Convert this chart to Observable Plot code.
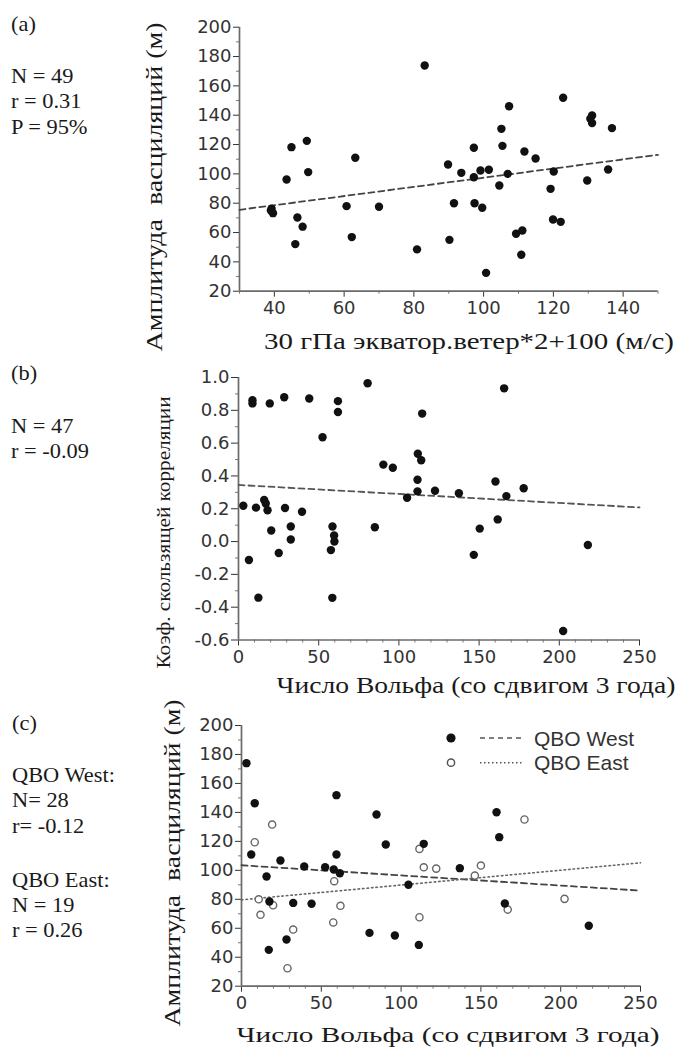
<!DOCTYPE html>
<html><head><meta charset="utf-8">
<script src="https://cdn.jsdelivr.net/npm/d3@7"></script>
<script src="https://cdn.jsdelivr.net/npm/@observablehq/plot@0.6"></script>
<style>
body{margin:0;background:#fff;}
#fig{position:relative;width:678px;height:1047px;overflow:hidden;background:#fff;}
</style></head><body><div id="fig"></div>
<script>
// ---------- data ----------
// Panel (a): 30 hPa equatorial wind*2+100 vs oscillation amplitude
const aX = [39.2,39.6,39.0,43.5,44.9,46.0,46.6,48.1,49.3,49.7,60.7,62.2,63.2,70.0,80.9,83.1,89.8,90.2,91.5,93.6,97.2,97.2,97.4,99.1,99.6,100.7,101.5,104.5,105.1,105.4,106.9,107.3,109.3,110.8,111.1,111.7,114.9,119.2,120.1,119.9,122.1,122.8,129.7,131.1,130.6,131.1,135.7,136.8];
const aY = [76.2,73.2,75.0,96.2,118.2,52.1,70.3,64.0,122.5,101.2,78.0,56.9,111.0,77.6,48.5,173.9,106.4,55.0,80.0,100.7,117.8,97.7,80.0,102.3,76.9,32.5,102.8,92.1,130.7,119.1,100.0,146.1,59.2,44.9,61.4,115.3,110.5,89.8,101.6,68.9,67.3,151.9,95.5,139.8,137.6,134.6,103.0,131.2];
const trendAX = [30,150], trendAY = [75.5,113.0];

// Panel (b): Wolf number (3-yr lag) vs running correlation coefficient
const bX = [3.0,6.5,8.7,8.7,10.9,12.4,16.0,17.0,18.1,19.5,20.4,25.1,28.5,29.0,32.6,32.6,39.6,44.1,52.4,57.6,58.6,59.6,59.8,58.5,62.0,62.0,80.5,85.0,90.3,96.2,105.1,111.6,111.6,111.8,113.9,114.5,122.5,137.4,146.7,150.4,160.2,161.6,165.6,167.0,177.8,202.4,217.8];
const bY = [0.218,-0.112,0.862,0.842,0.207,-0.342,0.254,0.232,0.191,0.842,0.067,-0.070,0.880,0.205,0.092,0.013,0.182,0.872,0.636,-0.052,0.092,0.037,0.0,-0.343,0.856,0.790,0.965,0.087,0.469,0.450,0.267,0.377,0.306,0.535,0.496,0.780,0.310,0.295,-0.081,0.079,0.366,0.135,0.934,0.277,0.325,-0.545,-0.021];
const trendBX = [0,250], trendBY = [0.345,0.208];

// Panel (c): Wolf number vs amplitude, QBO West / QBO East
const westX = [3.1,8.3,6.1,15.7,17.5,17.1,24.4,28.2,32.4,39.3,43.9,52.4,57.8,59.5,59.5,61.6,80.2,84.6,90.4,96.1,104.6,111.1,114.2,136.8,159.8,161.5,165.0,217.6];
const westY = [174.0,146.3,110.9,95.7,78.5,45.1,106.8,52.2,77.5,102.6,76.9,102.1,100.6,151.9,110.9,98.0,56.8,138.5,117.8,55.0,90.0,48.5,118.3,101.5,140.1,122.9,77.1,61.7];
const eastX = [19.2,8.3,10.8,11.9,19.8,32.4,28.8,58.1,57.5,62.0,111.5,111.5,114.2,122.0,146.2,150.0,177.3,166.8,202.4];
const eastY = [131.6,119.4,80.0,69.3,75.9,59.1,32.4,92.5,64.0,75.5,114.8,67.6,102.1,101.2,96.4,103.3,135.1,72.9,80.3];
const trendWX = [0,250], trendWY = [103.5,86.0];
const trendEX = [0,250], trendEY = [79.6,105.2];

// tick values
const ampMajor = [20,40,60,80,100,120,140,160,180,200];
const ampMinor = [30,50,70,90,110,130,150,170,190];
const windMajor = [40,60,80,100,120,140];
const windMinor = [30,50,70,90,110,130,150];
const corrMajor = [-0.6,-0.4,-0.2,0.0,0.2,0.4,0.6,0.8,1.0];
const corrMinor = [-0.5,-0.3,-0.1,0.1,0.3,0.5,0.7,0.9];
const wolfMajor = [0,50,100,150,200,250];
const wolfMinor = [10,20,30,40,60,70,80,90,110,120,130,140,160,170,180,190,210,220,230,240];

// text
const notes = [
  ["(a)",11,31],["N = 49",11,83],["r = 0.31",11,108],["P = 95%",11,134],
  ["(b)",11,380],["N = 47",11,433],["r = -0.09",11,458],
  ["(c)",12,730],["QBO West:",12,782],["N= 28",12,807],["r= -0.12",12,833],
  ["QBO East:",12,887],["N = 19",12,912],["r = 0.26",12,937]
];
const axisTitles = [
  {t:"Амплитуда  васциляций (м)", x:162, y:187, rot:true, size:23, len:329},
  {t:"30 гПа экватор.ветер*2+100 (м/с)", x:469, y:348.5, rot:false, size:22.5, len:410},
  {t:"Коэф. скользящей корреляции", x:169.5, y:532.5, rot:true, size:19, len:272},
  {t:"Число Вольфа (со сдвигом 3 года)", x:476, y:693, rot:false, size:22.5, len:399},
  {t:"Амплитуда  васциляций (м)", x:180, y:863, rot:true, size:23, len:327},
  {t:"Число Вольфа (со сдвигом 3 года)", x:448, y:1041.5, rot:false, size:22, len:423}
];
const legendItems = [
  {label:"QBO West", filled:true, dash:"5,4"},
  {label:"QBO East", filled:false, dash:"1.5,2.5"}
];

// ---------- drawing ----------
const fig = document.getElementById("fig");
const zip = (xs, ys) => xs.map((x, i) => ({x, y: ys[i]}));
const fmt1 = d => d.toFixed(1);

function panel(o) {
  const p = Plot.plot({
    width: 678, height: o.height,
    marginTop: o.mt, marginBottom: o.mb, marginLeft: o.ml, marginRight: o.mr,
    x: {domain: o.xDomain}, y: {domain: o.yDomain},
    style: {fontFamily: "'DejaVu Sans', 'Liberation Sans', Arial, sans-serif", fontSize: "18px", color: "#333", background: "transparent", overflow: "visible"},
    marks: [
      Plot.axisY(o.yMinor, {tickSize: 3, tickFormat: () => "", label: null, color: "#777"}),
      Plot.axisY(o.yMajor, {tickSize: o.ySize || 6, tickPadding: o.yPad || 2, tickFormat: o.yFmt, label: null, color: "#333", fontSize: 18}),
      Plot.axisX(o.xMinor, {tickSize: 3, tickFormat: () => "", label: null, color: "#777"}),
      Plot.axisX(o.xMajor, {tickSize: 6, tickPadding: 4, label: null, color: "#333", fontSize: 18}),
      Plot.ruleX([o.xDomain[0]], {stroke: "#6a6a6a", strokeWidth: 1.7}),
      Plot.ruleY([o.yDomain[0]], {stroke: "#6a6a6a", strokeWidth: 1.7}),
      ...o.marks
    ]
  });
  p.style.position = "absolute"; p.style.left = "0px"; p.style.top = o.top + "px";
  fig.append(p);
}

panel({
  top: 0, height: 360, mt: 26.7, mb: 69.3, ml: 239, mr: 20.5,
  xDomain: [30,150], yDomain: [20,200],
  xMajor: windMajor, xMinor: windMinor, yMajor: ampMajor, yMinor: ampMinor,
  marks: [
    Plot.line(zip(trendAX, trendAY), {x: "x", y: "y", stroke: "#444", strokeWidth: 1.8, strokeDasharray: "6,4"}),
    Plot.dot(zip(aX, aY), {x: "x", y: "y", r: 4.2, fill: "#111"})
  ]
});

panel({
  top: 340, height: 360, mt: 37, mb: 60.5, ml: 238, mr: 39,
  xDomain: [0,250], yDomain: [-0.6,1.0],
  xMajor: wolfMajor, xMinor: wolfMinor, yMajor: corrMajor, yMinor: corrMinor, yFmt: fmt1, ySize: 7, yPad: 2,
  marks: [
    Plot.line(zip(trendBX, trendBY), {x: "x", y: "y", stroke: "#555", strokeWidth: 1.8, strokeDasharray: "6,4"}),
    Plot.dot(zip(bX, bY), {x: "x", y: "y", r: 4.2, fill: "#111"})
  ]
});

panel({
  top: 690, height: 357, mt: 35, mb: 61.3, ml: 241, mr: 38,
  xDomain: [0,250], yDomain: [20,200],
  xMajor: wolfMajor, xMinor: wolfMinor, yMajor: ampMajor, yMinor: ampMinor,
  marks: [
    Plot.line(zip(trendWX, trendWY), {x: "x", y: "y", stroke: "#444", strokeWidth: 1.8, strokeDasharray: "6,4"}),
    Plot.line(zip(trendEX, trendEY), {x: "x", y: "y", stroke: "#666", strokeWidth: 1.6, strokeDasharray: "1.5,3"}),
    Plot.dot(zip(eastX, eastY), {x: "x", y: "y", r: 3.6, fill: "white", stroke: "#666", strokeWidth: 1.4}),
    Plot.dot(zip(westX, westY), {x: "x", y: "y", r: 4.2, fill: "#111"})
  ]
});

// overlay: notes, axis titles, legend
const svg = d3.select(fig).append("svg")
  .attr("width", 678).attr("height", 1047)
  .style("position", "absolute").style("left", "0px").style("top", "0px")
  .style("pointer-events", "none");

const serif = "'Liberation Serif', 'Times New Roman', serif";
svg.selectAll("text.note").data(notes).join("text")
  .attr("class", "note")
  .attr("transform", d => `translate(${d[1]},${d[2]}) scale(1.12,1)`)
  .attr("font-family", serif).attr("font-size", 20).attr("fill", "#1a1a1a")
  .text(d => d[0]);

svg.selectAll("text.title").data(axisTitles).join("text")
  .attr("class", "title")
  .attr("transform", d => `translate(${d.x},${d.y})` + (d.rot ? " rotate(-90)" : ""))
  .attr("text-anchor", "middle")
  .attr("font-family", serif).attr("font-size", d => d.size).attr("fill", "#1a1a1a")
  .attr("textLength", d => d.len).attr("lengthAdjust", "spacingAndGlyphs")
  .style("white-space", "pre")
  .text(d => d.t);

const lg = svg.append("g").attr("transform", "translate(451,738)");
legendItems.forEach((it, i) => {
  const g = lg.append("g").attr("transform", `translate(0,${i * 24.7})`);
  g.append("circle").attr("r", it.filled ? 4.6 : 3.6)
    .attr("fill", it.filled ? "#111" : "white")
    .attr("stroke", it.filled ? "none" : "#555").attr("stroke-width", 1.5);
  g.append("line").attr("x1", 29).attr("x2", 72)
    .attr("stroke", "#555").attr("stroke-width", 1.6).attr("stroke-dasharray", it.dash);
  g.append("text").attr("x", 83).attr("y", 7.5)
    .attr("font-family", "'Liberation Sans', Arial, sans-serif").attr("font-size", 21).attr("fill", "#333")
    .text(it.label);
});
</script>
</body></html>
